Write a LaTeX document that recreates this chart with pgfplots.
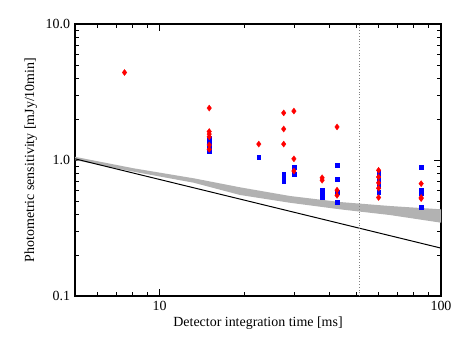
\documentclass[border=0pt]{standalone}
\usepackage{fontspec}
\setmainfont{Liberation Serif}
\usepackage{pgfplots}
\pgfplotsset{compat=1.18}
\begin{document}
\fontsize{14}{16}\selectfont
\begin{tikzpicture}
\begin{axis}[
  scale only axis, width=366bp, height=272bp,
  xmode=log, ymode=log,
  xmin=5, xmax=100, ymin=0.1, ymax=10,
  xtick={10,100}, xticklabels={10,100},
  ytick={0.1,1,10}, yticklabels={0.1,1.0,10.0},
  minor xtick={6,7,8,9,20,30,40,50,60,70,80,90},
  minor ytick={0.2,0.3,0.4,0.5,0.6,0.7,0.8,0.9,2,3,4,5,6,7,8,9},
  tick align=inside,
  major tick length=7bp, minor tick length=4bp,
  axis line style={line width=1.1pt},
  every tick/.style={black, line width=0.6pt},
  tick label style={font=\fontsize{14}{16}\selectfont},
  /pgf/number format/assume math mode=true,
  xlabel={Detector integration time [ms]},
  ylabel={Photometric sensitivity [mJy/10min]},
  label style={font=\fontsize{14}{16}\selectfont},
  xlabel style={yshift=3bp},
  ylabel style={yshift=-1bp},
  clip=true,
]
\addplot[only marks, mark=square*, mark size=1.9pt, blue, mark options={draw=blue, fill=blue}] coordinates {
(15,1.46) (15,1.36) (15,1.25) (15,1.15)
(22.5,1.05)
(27.6,0.79) (27.6,0.72) (27.6,0.70)
(30,0.89) (30,0.79)
(37.8,0.60) (37.8,0.56) (37.8,0.53)
(42.7,0.92) (42.7,0.72) (42.7,0.58) (42.7,0.49)
(60,0.82) (60,0.76) (60,0.70) (60,0.64) (60,0.58)
(85,0.89) (85,0.60) (85,0.57) (85,0.45)
};
\addplot[only marks, mark=diamond*, mark size=3pt, red, mark options={draw=red, fill=red}] coordinates {
(7.5,4.4)
(15,2.41) (15,1.62) (15,1.55) (15,1.48) (15,1.29) (15,1.20)
(22.5,1.31)
(27.6,2.22) (27.6,1.69) (27.6,1.31)
(30,2.29) (30,1.02) (30,0.83)
(37.8,0.71) (37.8,0.74)
(42.7,1.75) (42.7,0.60) (42.7,0.55)
(60,0.84) (60,0.75) (60,0.68) (60,0.62) (60,0.53)
(85,0.67) (85,0.53) (85,0.52)
};
\addplot[fill=black!30, draw=none] coordinates {
(4.98,1.057) (8.08,0.869) (13.2,0.734) (19.3,0.630) (29.0,0.544) (43.7,0.491) (65.8,0.459) (100,0.434)
(100,0.346) (65.8,0.394) (43.7,0.434) (29.0,0.485) (19.3,0.553) (13.2,0.681) (8.08,0.820) (4.98,1.0)
} -- cycle;
\addplot[black, line width=1pt] coordinates {(5,1.02) (100,0.225)};
\addplot[gray, dotted, line width=0.8pt] coordinates {(51.2,0.1) (51.2,10)};
\end{axis}
\path (current axis.south west) ++(-75bp,-48bp) coordinate (bl);
\path (current axis.north east) ++(22bp,24bp) coordinate (tr);
\useasboundingbox (bl) rectangle (tr);
\end{tikzpicture}
\end{document}
